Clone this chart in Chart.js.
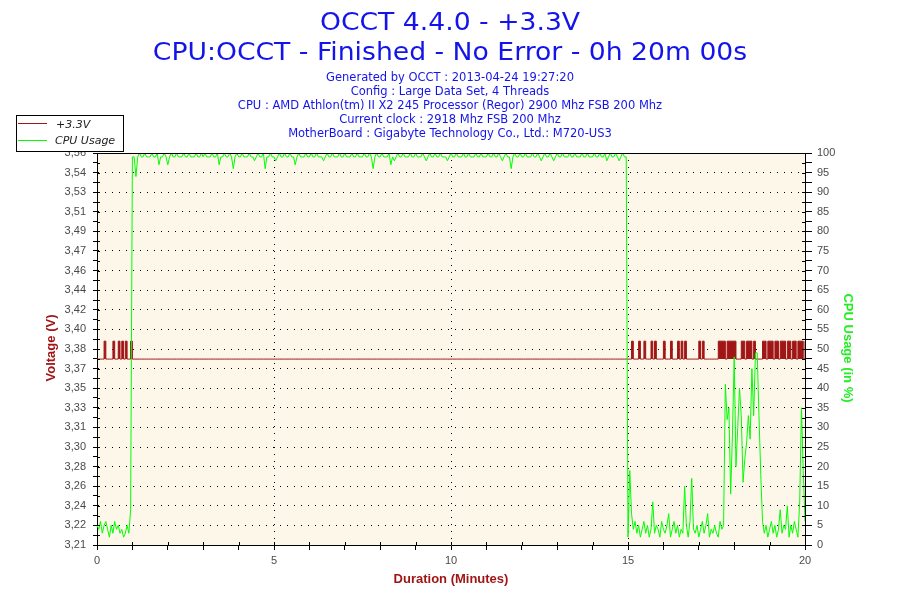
<!DOCTYPE html>
<html>
<head>
<meta charset="utf-8">
<script src="https://cdn.jsdelivr.net/npm/chart.js@4.4.0/dist/chart.umd.min.js"></script>
<style>
html,body{margin:0;padding:0;background:#ffffff;}
#wrap{width:900px;height:600px;position:relative;}
</style>
</head>
<body>
<div id="wrap"><canvas id="c" width="900" height="600"></canvas></div>
<script>
// ---------- data ----------
const titleLines = ["OCCT 4.4.0 - +3.3V", "CPU:OCCT - Finished - No Error - 0h 20m 00s"];
const infoLines = [
  "Generated by OCCT : 2013-04-24 19:27:20",
  "Config : Large Data Set, 4 Threads",
  "CPU : AMD Athlon(tm) II X2 245 Processor (Regor) 2900 Mhz FSB 200 Mhz",
  "Current clock : 2918 Mhz FSB 200 Mhz",
  "MotherBoard : Gigabyte Technology Co., Ltd.: M720-US3"
];
const seriesNames = ["+3.3V", "CPU Usage"];
const axisTitles = { voltage: "Voltage (V)", cpu: "CPU Usage (in %)", duration: "Duration (Minutes)" };

const voltageTickLabels = ["3,21","3,22","3,24","3,26","3,28","3,30","3,31","3,33","3,35","3,37","3,38",
  "3,40","3,42","3,44","3,46","3,47","3,49","3,51","3,53","3,54","3,56"];
const voltageRange = [3.21, 3.56];
const voltageBase = 3.376;
const cpuTickLabels = [0,5,10,15,20,25,30,35,40,45,50,55,60,65,70,75,80,85,90,95,100];
const durationTickLabels = [0,5,10,15,20];
const durationRange = [0, 20];
const sampleStepMinutes = 0.05;

const voltage = [
3.376,3.376,3.376,3.376,3.392,3.376,3.376,3.376,3.376,3.392,3.376,3.376,3.392,3.376,3.392,3.376,3.392,3.376,3.376,3.392,
3.376,3.376,3.376,3.376,3.376,3.376,3.376,3.376,3.376,3.376,3.376,3.376,3.376,3.376,3.376,3.376,3.376,3.376,3.376,3.376,
3.376,3.376,3.376,3.376,3.376,3.376,3.376,3.376,3.376,3.376,3.376,3.376,3.376,3.376,3.376,3.376,3.376,3.376,3.376,3.376,
3.376,3.376,3.376,3.376,3.376,3.376,3.376,3.376,3.376,3.376,3.376,3.376,3.376,3.376,3.376,3.376,3.376,3.376,3.376,3.376,
3.376,3.376,3.376,3.376,3.376,3.376,3.376,3.376,3.376,3.376,3.376,3.376,3.376,3.376,3.376,3.376,3.376,3.376,3.376,3.376,
3.376,3.376,3.376,3.376,3.376,3.376,3.376,3.376,3.376,3.376,3.376,3.376,3.376,3.376,3.376,3.376,3.376,3.376,3.376,3.376,
3.376,3.376,3.376,3.376,3.376,3.376,3.376,3.376,3.376,3.376,3.376,3.376,3.376,3.376,3.376,3.376,3.376,3.376,3.376,3.376,
3.376,3.376,3.376,3.376,3.376,3.376,3.376,3.376,3.376,3.376,3.376,3.376,3.376,3.376,3.376,3.376,3.376,3.376,3.376,3.376,
3.376,3.376,3.376,3.376,3.376,3.376,3.376,3.376,3.376,3.376,3.376,3.376,3.376,3.376,3.376,3.376,3.376,3.376,3.376,3.376,
3.376,3.376,3.376,3.376,3.376,3.376,3.376,3.376,3.376,3.376,3.376,3.376,3.376,3.376,3.376,3.376,3.376,3.376,3.376,3.376,
3.376,3.376,3.376,3.376,3.376,3.376,3.376,3.376,3.376,3.376,3.376,3.376,3.376,3.376,3.376,3.376,3.376,3.376,3.376,3.376,
3.376,3.376,3.376,3.376,3.376,3.376,3.376,3.376,3.376,3.376,3.376,3.376,3.376,3.376,3.376,3.376,3.376,3.376,3.376,3.376,
3.376,3.376,3.376,3.376,3.376,3.376,3.376,3.376,3.376,3.376,3.376,3.376,3.376,3.376,3.376,3.376,3.376,3.376,3.376,3.376,
3.376,3.376,3.376,3.376,3.376,3.376,3.376,3.376,3.376,3.376,3.376,3.376,3.376,3.376,3.376,3.376,3.376,3.376,3.376,3.376,
3.376,3.376,3.376,3.376,3.376,3.376,3.376,3.376,3.376,3.376,3.376,3.376,3.376,3.376,3.376,3.376,3.376,3.376,3.376,3.376,
3.376,3.376,3.392,3.376,3.376,3.376,3.392,3.376,3.376,3.392,3.376,3.376,3.376,3.392,3.376,3.392,3.376,3.376,3.376,3.376,
3.392,3.376,3.376,3.376,3.392,3.376,3.376,3.376,3.392,3.376,3.392,3.376,3.392,3.376,3.376,3.376,3.376,3.376,3.376,3.376,
3.392,3.376,3.392,3.376,3.376,3.376,3.376,3.376,3.376,3.376,3.376,3.392,3.392,3.392,3.392,3.376,3.392,3.392,3.392,3.392,
3.392,3.376,3.376,3.376,3.392,3.392,3.376,3.392,3.392,3.392,3.376,3.392,3.376,3.376,3.376,3.376,3.392,3.392,3.376,3.392,
3.392,3.392,3.376,3.392,3.392,3.376,3.392,3.392,3.392,3.376,3.392,3.392,3.376,3.392,3.392,3.376,3.392,3.392,3.392,3.376,
3.392
];

const cpuUsage = [
5,4,6,3,5,6,4,2,5,3, 6,4,5,3,4,2,3,5,3,9,
99,99,94,99,100,99,99,100,99,99, 99,100,99,99,100,97,99,99,100,99,
97,99,100,99,99,100,99,99,99,100, 99,99,100,99,99,99,100,99,99,100,
99,100,99,99,99,100,99,99,100,97, 99,99,100,99,99,100,99,96,99,100,
99,99,100,99,99,99,100,99,99,98, 99,100,99,99,100,96,99,99,100,99,
99,98,99,100,99,99,100,99,99,100, 99,99,97,99,100,99,99,99,100,99,
99,100,99,99,100,99,99,99,98,99, 100,99,99,100,99,99,99,100,99,99,
100,99,99,99,100,99,99,100,99,99, 99,100,99,99,100,99,96,99,100,99,
99,100,99,99,99,100,97,99,98,99, 100,99,99,100,99,99,99,100,99,99,
100,99,99,99,100,99,98,99,100,99, 99,100,99,99,100,99,99,99,98,99,
100,99,99,100,99,99,99,100,99,99, 100,99,99,99,100,99,99,100,99,99,
99,100,99,99,100,99,99,100,99,98, 99,100,99,99,96,99,100,99,99,100,
99,99,100,99,99,99,100,99,99,100, 99,98,99,100,99,99,100,99,98,99,
100,99,99,100,99,99,99,100,99,99, 100,99,99,99,100,99,99,100,99,99,
99,100,99,99,100,99,99,100,98,99, 100,99,99,100,99,98,99,100,99,99,
2,19,8,4,6,3,5,2,4,6, 3,5,2,4,11,3,5,4,2,6,
4,3,5,8,2,4,6,3,5,2, 4,3,15,5,2,6,17,4,3,5,
2,4,6,3,5,8,2,4,3,5, 3,2,6,4,5,41,32,35,13,28,
48,20,30,40,33,16,22,26,33,27, 45,33,49,49,33,18,6,3,5,2,
4,6,3,5,2,4,9,3,5,4, 10,2,5,3,6,4,2,11,35,19,
6
];

const minutes = cpuUsage.map((_, i) => +(i * sampleStepMinutes).toFixed(2));

// ---------- styles ----------
const RED = '#a01616';
const GREEN = '#00ff00';
const BLUE = '#1414ea';
const PLOT_BG = '#fdf7ea';
const TICK_FONT = { family: 'Liberation Sans, Arial, sans-serif', size: 11 };
const TICK_COLOR = '#4a4a4a';

const innerStub = { x: 3, yV: 3, yC: 3 };

function drawScaledText(ctx, text, cx, baseline, sx) {
  ctx.save();
  ctx.translate(cx, baseline);
  ctx.scale(sx, 1);
  ctx.fillText(text, 0, 0);
  ctx.restore();
}

const decorPlugin = {
  id: 'decor',
  beforeDraw(chart) {
    const { ctx, chartArea: a } = chart;
    ctx.save();
    ctx.fillStyle = '#ffffff';
    ctx.fillRect(0, 0, chart.width, chart.height);
    ctx.fillStyle = PLOT_BG;
    ctx.fillRect(a.left, a.top, a.right - a.left, a.bottom - a.top);
    ctx.restore();
  },
  afterDraw(chart) {
    const { ctx, chartArea: a } = chart;
    ctx.save();
    // top border
    ctx.strokeStyle = '#000';
    ctx.lineWidth = 1;
    ctx.beginPath();
    ctx.moveTo(a.left, Math.round(a.top) + 0.5);
    ctx.lineTo(a.right + 1, Math.round(a.top) + 0.5);
    ctx.stroke();
    // inner tick stubs
    const sx = chart.scales.x, sv = chart.scales.yV, sc = chart.scales.yC;
    ctx.beginPath();
    sx.ticks.forEach(t => {
      const px = Math.round(sx.getPixelForValue(t.value)) + 0.5;
      ctx.moveTo(px, a.bottom); ctx.lineTo(px, a.bottom - innerStub.x);
    });
    sv.ticks.forEach(t => {
      const py = Math.round(sv.getPixelForValue(t.value)) + 0.5;
      ctx.moveTo(a.left, py); ctx.lineTo(a.left + innerStub.yV, py);
    });
    sc.ticks.forEach(t => {
      const py = Math.round(sc.getPixelForValue(t.value)) + 0.5;
      ctx.moveTo(a.right, py); ctx.lineTo(a.right - innerStub.yC, py);
    });
    ctx.stroke();

    // titles
    ctx.fillStyle = BLUE;
    ctx.textAlign = 'center';
    ctx.textBaseline = 'alphabetic';
    ctx.font = '24px "DejaVu Sans", Verdana, sans-serif';
    drawScaledText(ctx, titleLines[0], 450, 30, 1.11);
    drawScaledText(ctx, titleLines[1], 450, 60, 1.11);
    ctx.font = '11.5px "DejaVu Sans", Verdana, sans-serif';
    const infoBase = [81, 95, 109, 122.7, 136.7];
    infoLines.forEach((t, i) => ctx.fillText(t, 450, infoBase[i]));

    // axis titles
    ctx.font = 'bold 13px "Liberation Sans", Arial, sans-serif';
    ctx.textBaseline = 'middle';
    ctx.fillStyle = RED;
    ctx.save();
    ctx.translate(51, 348);
    ctx.rotate(-Math.PI / 2);
    ctx.fillText(axisTitles.voltage, 0, 0);
    ctx.restore();
    ctx.save();
    ctx.fillStyle = '#22ee22';
    ctx.translate(848, 348);
    ctx.rotate(Math.PI / 2);
    ctx.fillText(axisTitles.cpu, 0, 0);
    ctx.restore();
    ctx.fillStyle = RED;
    ctx.fillText(axisTitles.duration, 451, 579);

    // legend
    ctx.fillStyle = '#ffffff';
    ctx.fillRect(16, 115, 108, 36);
    ctx.strokeStyle = '#000';
    ctx.lineWidth = 1;
    ctx.strokeRect(16.5, 115.5, 107, 36);
    const ds = chart.data.datasets;
    ctx.lineWidth = 1;
    ctx.strokeStyle = ds[0].borderColor;
    ctx.beginPath(); ctx.moveTo(18, 123.5); ctx.lineTo(47, 123.5); ctx.stroke();
    ctx.strokeStyle = ds[1].borderColor;
    ctx.beginPath(); ctx.moveTo(18, 140.5); ctx.lineTo(47, 140.5); ctx.stroke();
    ctx.fillStyle = '#222';
    ctx.textAlign = 'left';
    ctx.textBaseline = 'alphabetic';
    ctx.font = 'italic 11px "DejaVu Sans", Verdana, sans-serif';
    ctx.fillText(ds[0].label, 56, 127.5);
    ctx.fillText(ds[1].label, 55, 144);
    ctx.restore();
  }
};

const ctx = document.getElementById('c').getContext('2d');
new Chart(ctx, {
  type: 'line',
  data: {
    datasets: [
      {
        label: seriesNames[0],
        data: minutes.map((m, i) => ({ x: m, y: voltage[i] })),
        yAxisID: 'yV',
        borderColor: RED,
        backgroundColor: RED,
        borderWidth: 1,
        pointRadius: 0,
        stepped: true,
        fill: { value: voltageBase },
        order: 2
      },
      {
        label: seriesNames[1],
        data: minutes.map((m, i) => ({ x: m, y: cpuUsage[i] })),
        yAxisID: 'yC',
        borderColor: GREEN,
        borderWidth: 1,
        pointRadius: 0,
        tension: 0,
        fill: false,
        order: 1
      }
    ]
  },
  options: {
    responsive: false,
    animation: false,
    events: [],
    layout: { padding: { top: 153, left: 0, right: 0, bottom: 0 } },
    plugins: { legend: { display: false }, title: { display: false }, tooltip: { enabled: false } },
    scales: {
      x: {
        type: 'linear',
        position: 'bottom',
        min: durationRange[0],
        max: durationRange[1],
        afterBuildTicks: s => {
          const t = [];
          for (let v = durationRange[0]; v <= durationRange[1]; v++) t.push({ value: v });
          s.ticks = t;
        },
        afterFit: s => { s.height = 55; },
        ticks: {
          autoSkip: false, maxRotation: 0, padding: 4,
          font: TICK_FONT, color: TICK_COLOR,
          callback: v => durationTickLabels.includes(v) ? String(v) : ''
        },
        grid: {
          color: c => (c.tick && durationTickLabels.includes(c.tick.value) && c.tick.value !== durationRange[0] && c.tick.value !== durationRange[1]) ? '#000' : 'rgba(0,0,0,0)',
          lineWidth: 1,
          tickColor: '#000',
          tickLength: 5,
          drawTicks: true
        },
        border: { display: true, color: '#000', width: 1, dash: [1, 6] }
      },
      yV: {
        type: 'linear',
        position: 'left',
        min: voltageRange[0],
        max: voltageRange[1],
        afterBuildTicks: s => {
          const n = (voltageTickLabels.length - 1) * 2;
          const t = [];
          for (let i = 0; i <= n; i++) t.push({ value: voltageRange[0] + (voltageRange[1] - voltageRange[0]) * i / n });
          s.ticks = t;
        },
        afterFit: s => { s.width = 97; },
        ticks: {
          autoSkip: false, padding: 7,
          font: TICK_FONT, color: TICK_COLOR,
          callback: (v, i) => (i % 2 === 0) ? voltageTickLabels[i / 2] : ''
        },
        grid: {
          color: c => (c.index % 2 === 0) ? '#000' : 'rgba(0,0,0,0)',
          lineWidth: 1,
          tickColor: '#000',
          tickLength: 4
        },
        border: { display: true, color: '#000', width: 1, dash: [1, 6] }
      },
      yC: {
        type: 'linear',
        position: 'right',
        min: 0,
        max: 100,
        afterBuildTicks: s => {
          const t = [];
          for (let i = 0; i <= 40; i++) t.push({ value: i * 2.5 });
          s.ticks = t;
        },
        afterFit: s => { s.width = 95; },
        ticks: {
          autoSkip: false, padding: 5,
          font: TICK_FONT, color: TICK_COLOR,
          callback: v => cpuTickLabels.includes(v) ? String(v) : ''
        },
        grid: {
          drawOnChartArea: false,
          tickColor: '#000',
          tickLength: 7
        },
        border: { display: true, color: '#000', width: 1 }
      }
    }
  },
  plugins: [decorPlugin]
});
</script>
</body>
</html>
